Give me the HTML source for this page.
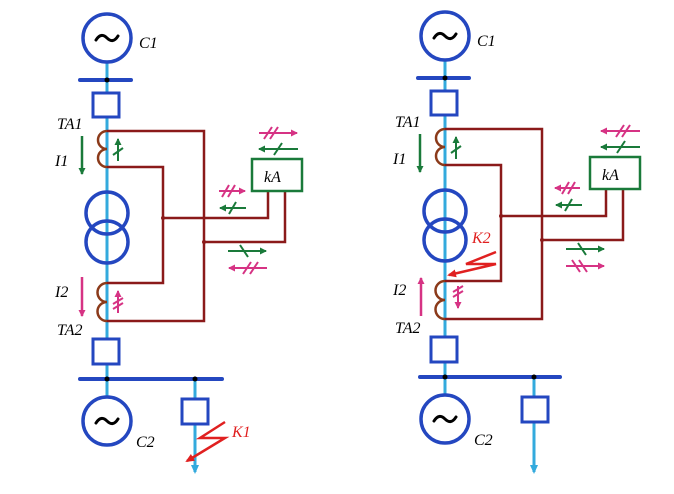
<!DOCTYPE html>
<html><head><meta charset="utf-8"><style>
html,body{margin:0;padding:0;background:#fff;}
svg{display:block;}
text{font-family:"Liberation Serif",serif;font-style:italic;}
</style></head><body>
<svg width="674" height="494" viewBox="0 0 674 494" xmlns="http://www.w3.org/2000/svg">
<defs>
<marker id="ag" markerWidth="8" markerHeight="8" refX="6" refY="4" orient="auto" markerUnits="userSpaceOnUse"><path d="M0,0.5 L7,4 L0,7.5 z" fill="#1a7a3a"/></marker>
<marker id="am" markerWidth="8" markerHeight="8" refX="6" refY="4" orient="auto" markerUnits="userSpaceOnUse"><path d="M0,0.5 L7,4 L0,7.5 z" fill="#d63384"/></marker>
<marker id="ar" markerWidth="10" markerHeight="10" refX="7" refY="5" orient="auto" markerUnits="userSpaceOnUse"><path d="M0,1 L9,5 L0,9 z" fill="#e02020"/></marker>
<marker id="ab" markerWidth="10" markerHeight="10" refX="7" refY="5" orient="auto" markerUnits="userSpaceOnUse"><path d="M0,1 L9,5 L0,9 z" fill="#33aadd"/></marker>
<g id="common">
 <line x1="107" y1="62" x2="107" y2="397" stroke="#33aadd" stroke-width="3"/>
 <circle cx="107" cy="38" r="24" fill="#fff" stroke="#2447c0" stroke-width="3.5"/>
 <path d="M96,40 q5,-8 11,-2 t11,-2" fill="none" stroke="#000" stroke-width="3" stroke-linecap="round"/>
 <text x="139" y="48" font-size="16">C1</text>
 <circle cx="107" cy="421" r="24" fill="#fff" stroke="#2447c0" stroke-width="3.5"/>
 <path d="M96,423 q5,-8 11,-2 t11,-2" fill="none" stroke="#000" stroke-width="3" stroke-linecap="round"/>
 <text x="136" y="447" font-size="16">C2</text>
 <line x1="80" y1="80" x2="131" y2="80" stroke="#2447c0" stroke-width="4" stroke-linecap="round"/>
 <circle cx="107" cy="80" r="2.5" fill="#000"/>
 <rect x="93" y="93" width="26" height="24" fill="#fff" stroke="#2447c0" stroke-width="3"/>
 <circle cx="107" cy="213" r="21" fill="none" stroke="#2447c0" stroke-width="3.5"/>
 <circle cx="107" cy="242" r="21" fill="none" stroke="#2447c0" stroke-width="3.5"/>
 <path d="M107,131 a9,9 0 0 0 0,18 a9,9 0 0 0 0,18" fill="none" stroke="#8b3a1a" stroke-width="2.5"/>
 <path d="M107,283 a9,9 0 0 0 0,19 a9,9 0 0 0 0,19" fill="none" stroke="#8b3a1a" stroke-width="2.5"/>
 <text x="57" y="129" font-size="16">TA1</text>
 <text x="57" y="335" font-size="16">TA2</text>
 <g fill="none" stroke="#8b1a1a" stroke-width="2.5">
  <polyline points="107,131 204,131 204,321 107,321"/>
  <polyline points="107,167 163,167 163,283 107,283"/>
  <polyline points="268,191 268,218 163,218"/>
  <polyline points="285,191 285,242 204,242"/>
 </g>
 <circle cx="163" cy="218" r="2" fill="#8b1a1a"/>
 <circle cx="204" cy="242" r="2" fill="#8b1a1a"/>
 <rect x="252" y="159" width="50" height="32" fill="#fff" stroke="#1a7a3a" stroke-width="2.5"/>
 <text x="264" y="182" font-size="16">kA</text>
 <rect x="93" y="339" width="26" height="25" fill="#fff" stroke="#2447c0" stroke-width="3"/>
</g>
</defs>

<use href="#common"/>
<line x1="195" y1="379" x2="195" y2="472" stroke="#33aadd" stroke-width="3" marker-end="url(#ab)"/>
<line x1="80" y1="379" x2="222" y2="379" stroke="#2447c0" stroke-width="4" stroke-linecap="round"/>
<circle cx="107" cy="379" r="2.5" fill="#000"/>
<circle cx="195" cy="379" r="2.5" fill="#000"/>
<rect x="182" y="399" width="26" height="25" fill="#fff" stroke="#2447c0" stroke-width="3"/>
<polyline points="225,422 200,438 225,438 187,461" fill="none" stroke="#e02020" stroke-width="2.5" marker-end="url(#ar)"/>
<text x="232" y="437" font-size="16" fill="#e02020">K1</text>
<line x1="82" y1="136" x2="82" y2="174" stroke="#1a7a3a" stroke-width="2.5" marker-end="url(#ag)"/>
<text x="55" y="166" font-size="16">I1</text>
<line x1="82" y1="277" x2="82" y2="316" stroke="#d63384" stroke-width="2.5" marker-end="url(#am)"/>
<text x="55" y="297" font-size="16">I2</text>
<line x1="118" y1="161" x2="118" y2="139" stroke="#1a7a3a" stroke-width="2" marker-end="url(#ag)"/>
<line x1="113" y1="155" x2="123" y2="148" stroke="#1a7a3a" stroke-width="2"/>
<line x1="118" y1="313" x2="118" y2="291" stroke="#d63384" stroke-width="2" marker-end="url(#am)"/>
<line x1="113" y1="304" x2="123" y2="298" stroke="#d63384" stroke-width="2"/>
<line x1="113" y1="309" x2="123" y2="303" stroke="#d63384" stroke-width="2"/>
<g stroke-width="2">
 <line x1="259" y1="133" x2="297" y2="133" stroke="#d63384" marker-end="url(#am)"/>
 <line x1="264" y1="139" x2="272" y2="127" stroke="#d63384"/><line x1="270" y1="139" x2="278" y2="127" stroke="#d63384"/>
 <line x1="298" y1="149" x2="259" y2="149" stroke="#1a7a3a" marker-end="url(#ag)"/>
 <line x1="274" y1="155" x2="282" y2="143" stroke="#1a7a3a"/>
 <line x1="219" y1="191" x2="245" y2="191" stroke="#d63384" marker-end="url(#am)"/>
 <line x1="222" y1="197" x2="229" y2="185" stroke="#d63384"/><line x1="228" y1="197" x2="235" y2="185" stroke="#d63384"/>
 <line x1="246" y1="208" x2="220" y2="208" stroke="#1a7a3a" marker-end="url(#ag)"/>
 <line x1="229" y1="214" x2="236" y2="202" stroke="#1a7a3a"/>
 <line x1="228" y1="251" x2="266" y2="251" stroke="#1a7a3a" marker-end="url(#ag)"/>
 <line x1="240" y1="245" x2="248" y2="257" stroke="#1a7a3a"/>
 <line x1="267" y1="268" x2="229" y2="268" stroke="#d63384" marker-end="url(#am)"/>
 <line x1="243" y1="274" x2="251" y2="262" stroke="#d63384"/><line x1="250" y1="274" x2="258" y2="262" stroke="#d63384"/>
</g>

<use href="#common" transform="translate(338,-2)"/>
<line x1="534" y1="377" x2="534" y2="472" stroke="#33aadd" stroke-width="3" marker-end="url(#ab)"/>
<line x1="420" y1="377" x2="560" y2="377" stroke="#2447c0" stroke-width="4" stroke-linecap="round"/>
<circle cx="445" cy="377" r="2.5" fill="#000"/>
<circle cx="534" cy="377" r="2.5" fill="#000"/>
<rect x="522" y="397" width="26" height="25" fill="#fff" stroke="#2447c0" stroke-width="3"/>
<polyline points="496,252 466,264 496,264 449,275" fill="none" stroke="#e02020" stroke-width="2.5" marker-end="url(#ar)"/>
<text x="472" y="243" font-size="16" fill="#e02020">K2</text>
<line x1="420" y1="134" x2="420" y2="172" stroke="#1a7a3a" stroke-width="2.5" marker-end="url(#ag)"/>
<text x="393" y="164" font-size="16">I1</text>
<line x1="421" y1="316" x2="421" y2="278" stroke="#d63384" stroke-width="2.5" marker-end="url(#am)"/>
<text x="393" y="295" font-size="16">I2</text>
<line x1="456" y1="159" x2="456" y2="137" stroke="#1a7a3a" stroke-width="2" marker-end="url(#ag)"/>
<line x1="451" y1="153" x2="461" y2="146" stroke="#1a7a3a" stroke-width="2"/>
<line x1="458" y1="286" x2="458" y2="308" stroke="#d63384" stroke-width="2" marker-end="url(#am)"/>
<line x1="453" y1="292" x2="463" y2="286" stroke="#d63384" stroke-width="2"/>
<line x1="453" y1="297" x2="463" y2="291" stroke="#d63384" stroke-width="2"/>
<g stroke-width="2">
 <line x1="640" y1="131" x2="601" y2="131" stroke="#d63384" marker-end="url(#am)"/>
 <line x1="616" y1="137" x2="624" y2="125" stroke="#d63384"/><line x1="622" y1="137" x2="630" y2="125" stroke="#d63384"/>
 <line x1="640" y1="147" x2="601" y2="147" stroke="#1a7a3a" marker-end="url(#ag)"/>
 <line x1="617" y1="153" x2="625" y2="141" stroke="#1a7a3a"/>
 <line x1="580" y1="188" x2="555" y2="188" stroke="#d63384" marker-end="url(#am)"/>
 <line x1="562" y1="194" x2="569" y2="182" stroke="#d63384"/><line x1="568" y1="194" x2="575" y2="182" stroke="#d63384"/>
 <line x1="582" y1="205" x2="556" y2="205" stroke="#1a7a3a" marker-end="url(#ag)"/>
 <line x1="565" y1="211" x2="572" y2="199" stroke="#1a7a3a"/>
 <line x1="566" y1="249" x2="604" y2="249" stroke="#1a7a3a" marker-end="url(#ag)"/>
 <line x1="578" y1="243" x2="586" y2="255" stroke="#1a7a3a"/>
 <line x1="566" y1="266" x2="604" y2="266" stroke="#d63384" marker-end="url(#am)"/>
 <line x1="572" y1="260" x2="580" y2="272" stroke="#d63384"/><line x1="579" y1="260" x2="587" y2="272" stroke="#d63384"/>
</g>
</svg>
</body></html>
